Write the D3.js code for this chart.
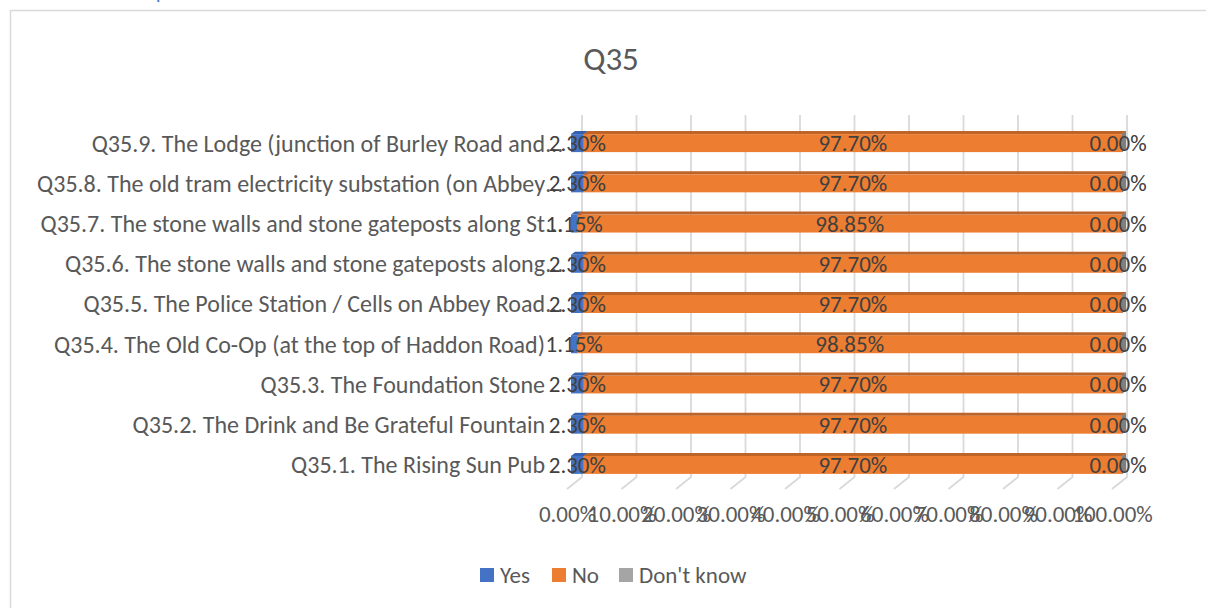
<!DOCTYPE html>
<html>
<head>
<meta charset="utf-8">
<script src="https://cdn.jsdelivr.net/npm/d3@7"></script>
<style>
  body { margin: 0; background: #fff; }
  svg { display: block; font-family: Carlito, Calibri, Lato, sans-serif; }
</style>
</head>
<body>
<svg id="chart" width="1206" height="608"></svg>
<script>
// data, bottom row first (as in the source sheet)
const categories = [
  "Q35.1. The Rising Sun Pub",
  "Q35.2. The Drink and Be Grateful Fountain",
  "Q35.3. The Foundation Stone",
  "Q35.4. The Old Co-Op (at the top of Haddon Road)",
  "Q35.5. The Police Station / Cells on Abbey Road…",
  "Q35.6. The stone walls and stone gateposts along…",
  "Q35.7. The stone walls and stone gateposts along St…",
  "Q35.8. The old tram electricity substation (on Abbey…",
  "Q35.9. The Lodge (junction of Burley Road and…"
];
const yesValues = [2.30, 2.30, 2.30, 1.15, 2.30, 2.30, 1.15, 2.30, 2.30];
const noValues = [97.70, 97.70, 97.70, 98.85, 97.70, 97.70, 98.85, 97.70, 97.70];
const dontKnowValues = [0, 0, 0, 0, 0, 0, 0, 0, 0];
const seriesNames = ["Yes", "No", "Don't know"];

const colors = {
  "Yes": { front: "#4472C4", top: "#3560AE", side: "#2F5597" },
  "No": { front: "#ED7D31", top: "#BE6428", side: "#AE5A22" },
  "Don't know": { front: "#A5A5A5", top: "#8A8A8A", side: "#7F7F7F" }
};

const fs = 23;
const svg = d3.select("#chart");

// outer chart border (runs off the right / bottom of the shot)
svg.append("rect")
  .attr("x", 10.5).attr("y", 10.5)
  .attr("width", 1300).attr("height", 700)
  .attr("fill", "none").attr("stroke", "#D9D9D9").attr("stroke-width", 1.5);

// bit of heading text peeking in at the top
svg.append("text")
  .attr("x", 156).attr("y", -1)
  .attr("fill", "#4472C4").attr("font-size", 20)
  .text("p");

svg.append("text")
  .attr("x", 611).attr("y", 70)
  .attr("text-anchor", "middle")
  .attr("fill", "#595959").attr("font-size", 33)
  .text("Q35");

const rows = categories.map((c, i) => ({
  cat: c,
  segs: [
    { key: "Yes", x0: 0, x1: yesValues[i] },
    { key: "No", x0: yesValues[i], x1: yesValues[i] + noValues[i] },
    { key: "Don't know", x0: yesValues[i] + noValues[i], x1: yesValues[i] + noValues[i] + dontKnowValues[i] }
  ]
}));

// back wall / front of bars / front edge of floor
const xBack = d3.scaleLinear().domain([0, 100]).range([582, 1127]);
const xFront = d3.scaleLinear().domain([0, 100]).range([571, 1122]);
const xFloor = d3.scaleLinear().domain([0, 100]).range([567, 1112]);
const y = d3.scaleBand().domain(categories.slice().reverse()).range([115, 477]);

const wallBottom = 477, floorFront = 489;
const barH = 18, barOff = 8, depthX = 4, depthY = 3;

// gridlines on the back wall and floor
const ticks = xBack.ticks(10);
svg.append("g").selectAll("path").data(ticks).join("path")
  .attr("d", t => `M${xBack(t)},115V${wallBottom}L${xFloor(t)},${floorFront}`)
  .attr("fill", "none").attr("stroke", "#D9D9D9").attr("stroke-width", 1.8);

// tick labels
const axis = svg.append("g")
  .attr("transform", `translate(0,${floorFront + 14})`)
  .call(d3.axisBottom(xFloor).tickValues(ticks).tickSize(0).tickFormat(d => d3.format(".2f")(d) + "%"));
axis.select(".domain").remove();
axis.selectAll("text")
  .attr("fill", "#595959").attr("font-size", fs)
  .attr("font-family", "Carlito, Calibri, Lato, sans-serif");

// bars as flat 3D boxes
const rowG = svg.append("g").selectAll("g").data(rows).join("g");
rowG.each(function (r) {
  const g = d3.select(this);
  const top = y(r.cat) + y.bandwidth() / 2 + barOff - barH / 2;
  const bot = top + barH;
  r.segs.forEach(s => {
    const a = xFront(s.x0), b = xFront(s.x1);
    g.append("rect")
      .attr("x", a).attr("y", top).attr("width", b - a).attr("height", barH)
      .attr("fill", colors[s.key].front);
    g.append("path")
      .attr("d", `M${a},${top}L${b},${top}L${b + depthX},${top - depthY}L${a + depthX},${top - depthY}Z`)
      .attr("fill", colors[s.key].top);
    g.append("path")
      .attr("d", `M${b},${top}L${b + depthX},${top - depthY}L${b + depthX},${bot - depthY}L${b},${bot}Z`)
      .attr("fill", colors[s.key].side);
  });
});

// category labels (ellipsis hangs past the right edge)
const labelG = svg.append("g").attr("fill", "#595959").attr("font-size", 24);
rows.forEach(r => {
  const cy = y(r.cat) + y.bandwidth() / 2 + barOff;
  const trunc = r.cat.endsWith("…");
  labelG.append("text")
    .attr("x", 545).attr("y", cy).attr("dy", "0.35em")
    .attr("text-anchor", "end")
    .text(trunc ? r.cat.slice(0, -1) : r.cat);
  if (trunc) {
    labelG.append("text")
      .attr("x", 546).attr("y", cy).attr("dy", "0.35em")
      .text("…");
  }
});

// data labels
const dataG = svg.append("g").attr("fill", "#404040").attr("font-size", fs).attr("text-anchor", "middle");
rows.forEach(r => {
  const cy = y(r.cat) + y.bandwidth() / 2 + barOff;
  r.segs.forEach(s => {
    dataG.append("text")
      .attr("x", (xFront(s.x0) + xFront(s.x1)) / 2 - (s.x1 === s.x0 ? 4 : 0))
      .attr("y", cy).attr("dy", "0.35em")
      .text(d3.format(".2f")(s.x1 - s.x0) + "%");
  });
});

// legend
const legendX = [480, 552, 619];
const legend = svg.append("g").selectAll("g").data(seriesNames).join("g")
  .attr("transform", (d, i) => `translate(${legendX[i]},568)`);
legend.append("rect").attr("width", 14).attr("height", 14).attr("fill", d => colors[d].front);
legend.append("text")
  .attr("x", 20).attr("y", 7).attr("dy", "0.35em")
  .attr("fill", "#595959").attr("font-size", fs)
  .text(d => d);
</script>
</body>
</html>
